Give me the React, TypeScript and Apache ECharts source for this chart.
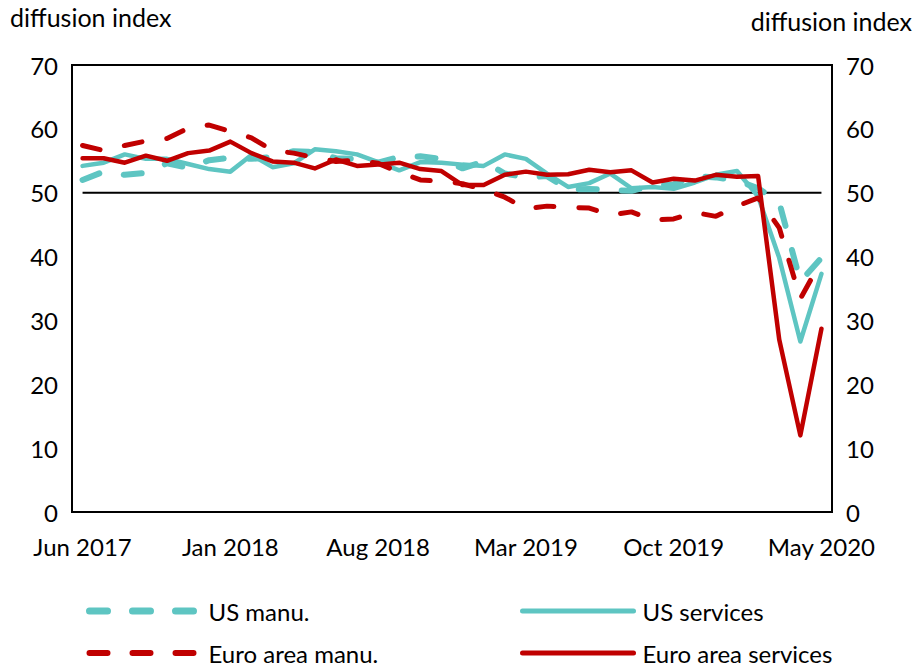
import React, { useEffect, useRef } from "react";
import * as echarts from "echarts";

const months = [
  "Jun 2017", "Jul 2017", "Aug 2017", "Sep 2017", "Oct 2017", "Nov 2017", "Dec 2017",
  "Jan 2018", "Feb 2018", "Mar 2018", "Apr 2018", "May 2018", "Jun 2018", "Jul 2018",
  "Aug 2018", "Sep 2018", "Oct 2018", "Nov 2018", "Dec 2018",
  "Jan 2019", "Feb 2019", "Mar 2019", "Apr 2019", "May 2019", "Jun 2019", "Jul 2019",
  "Aug 2019", "Sep 2019", "Oct 2019", "Nov 2019", "Dec 2019",
  "Jan 2020", "Feb 2020", "Mar 2020", "Apr 2020", "May 2020",
];

const usManu = [
  52.0, 53.3, 52.8, 53.1, 54.6, 53.9, 55.1,
  55.5, 55.3, 55.6, 56.5, 56.4, 55.4, 55.3, 54.7, 55.6, 55.7, 55.3, 53.8,
  54.9, 53.0, 52.4, 52.6, 50.5, 50.6, 50.4, 50.3, 51.1, 51.3, 52.6, 52.4,
  51.9, 50.7, 48.5, 36.1, 39.8,
];

const usServices = [
  54.2, 54.7, 56.0, 55.3, 55.3, 54.5, 53.7,
  53.3, 55.9, 54.0, 54.6, 56.8, 56.5, 56.0, 54.8, 53.5, 54.8, 54.7, 54.4,
  54.2, 56.0, 55.3, 53.0, 50.9, 51.5, 53.0, 50.7, 50.9, 50.6, 51.6, 52.8,
  53.4, 49.4, 39.8, 26.7, 37.3,
];

const euroManu = [
  57.4, 56.6, 57.4, 58.1, 58.5, 60.1, 60.6,
  59.6, 58.6, 56.6, 56.2, 55.5, 54.9, 55.1, 54.6, 53.2, 52.0, 51.8, 51.4,
  50.5, 49.3, 47.5, 47.9, 47.7, 47.6, 46.5, 47.0, 45.7, 45.9, 46.9, 46.3,
  47.9, 49.2, 44.5, 33.4, 39.4,
];

const euroServices = [
  55.4, 55.4, 54.7, 55.8, 55.0, 56.2, 56.6,
  58.0, 56.2, 54.9, 54.7, 53.8, 55.2, 54.2, 54.4, 54.7, 53.7, 53.4, 51.2,
  51.2, 52.8, 53.3, 52.8, 52.9, 53.6, 53.2, 53.5, 51.6, 52.2, 51.9, 52.8,
  52.5, 52.6, 27.0, 12.0, 28.7,
];

const threshold = 50;
const yTicks = { min: 0, max: 70, interval: 10 };
const axisTitle = "diffusion index";

const TEAL = "#5EC5C2";
const RED = "#C00000";
const FONT = "Lato";
const DASH = [18, 25];
const FS = 24;

export default function App() {
  const ref = useRef<HTMLDivElement>(null);

  useEffect(() => {
    if (!ref.current) return;
    const chart = echarts.init(ref.current, null, { renderer: "svg" });

    const yAxisBase = {
      type: "value",
      min: yTicks.min,
      max: yTicks.max,
      interval: yTicks.interval,
      splitLine: { show: false },
      axisLine: { show: false },
      axisTick: { show: false },
      axisLabel: { color: "#000", fontSize: FS, fontFamily: FONT, margin: 14 },
    };

    const legendText = { fontSize: FS, color: "#000", fontFamily: FONT, padding: [0, 0, 0, 4] };
    const legendBase = {
      top: 599,
      height: 90,
      padding: 0,
      orient: "vertical",
      itemHeight: 14,
      itemGap: 18,
      selectedMode: false,
      textStyle: legendText,
      itemStyle: { opacity: 0 },
    };

    chart.setOption({
      animation: false,
      textStyle: { fontFamily: FONT },
      grid: {
        left: 72,
        right: 84,
        top: 65,
        bottom: 156,
        show: true,
        borderColor: "#000",
        borderWidth: 2,
        backgroundColor: "transparent",
      },
      xAxis: {
        type: "category",
        data: months,
        boundaryGap: true,
        axisLine: { show: false },
        axisTick: { show: false },
        axisLabel: { interval: 6, color: "#000", fontSize: FS, fontFamily: FONT, margin: 22 },
      },
      yAxis: [
        { ...yAxisBase, position: "left" },
        { ...yAxisBase, position: "right" },
      ],
      legend: [
        {
          ...legendBase,
          left: 86,
          itemWidth: 110,
          data: [
            { name: "US manu.", lineStyle: { type: DASH, width: 7, cap: "round", color: TEAL } },
            { name: "Euro area manu.", lineStyle: { type: DASH, width: 6, cap: "round", color: RED } },
          ],
        },
        {
          ...legendBase,
          left: 520,
          itemWidth: 111,
          data: [
            { name: "US services", lineStyle: { type: "solid", width: 5, cap: "round", color: TEAL } },
            { name: "Euro area services", lineStyle: { type: "solid", width: 5, cap: "round", color: RED } },
          ],
        },
      ],
      graphic: [
        {
          type: "text",
          left: 10,
          top: 4,
          style: { text: axisTitle, fontSize: 25, fontFamily: FONT, fill: "#000" },
        },
        {
          type: "text",
          right: 4,
          top: 8,
          style: { text: axisTitle, fontSize: 25, fontFamily: FONT, fill: "#000" },
        },
      ],
      series: [
        {
          name: "threshold",
          type: "line",
          data: months.map(() => threshold),
          symbol: "none",
          silent: true,
          lineStyle: { color: "#000", width: 2 },
          z: 1,
        },
        {
          name: "US manu.",
          type: "line",
          data: usManu,
          symbol: "none",
          lineStyle: { color: TEAL, width: 6, type: DASH, cap: "round" },
          itemStyle: { color: TEAL },
          z: 2,
        },
        {
          name: "US services",
          type: "line",
          data: usServices,
          symbol: "none",
          lineStyle: { color: TEAL, width: 4.5, cap: "round", join: "round" },
          itemStyle: { color: TEAL },
          z: 3,
        },
        {
          name: "Euro area manu.",
          type: "line",
          data: euroManu,
          symbol: "none",
          lineStyle: { color: RED, width: 5, type: DASH, cap: "round" },
          itemStyle: { color: RED },
          z: 4,
        },
        {
          name: "Euro area services",
          type: "line",
          data: euroServices,
          symbol: "none",
          lineStyle: { color: RED, width: 4.5, cap: "round", join: "round" },
          itemStyle: { color: RED },
          z: 5,
        },
      ],
    });

    return () => chart.dispose();
  }, []);

  return (
    <div
      ref={ref}
      style={{ position: "absolute", left: 0, top: 0, width: 916, height: 668 }}
    />
  );
}
